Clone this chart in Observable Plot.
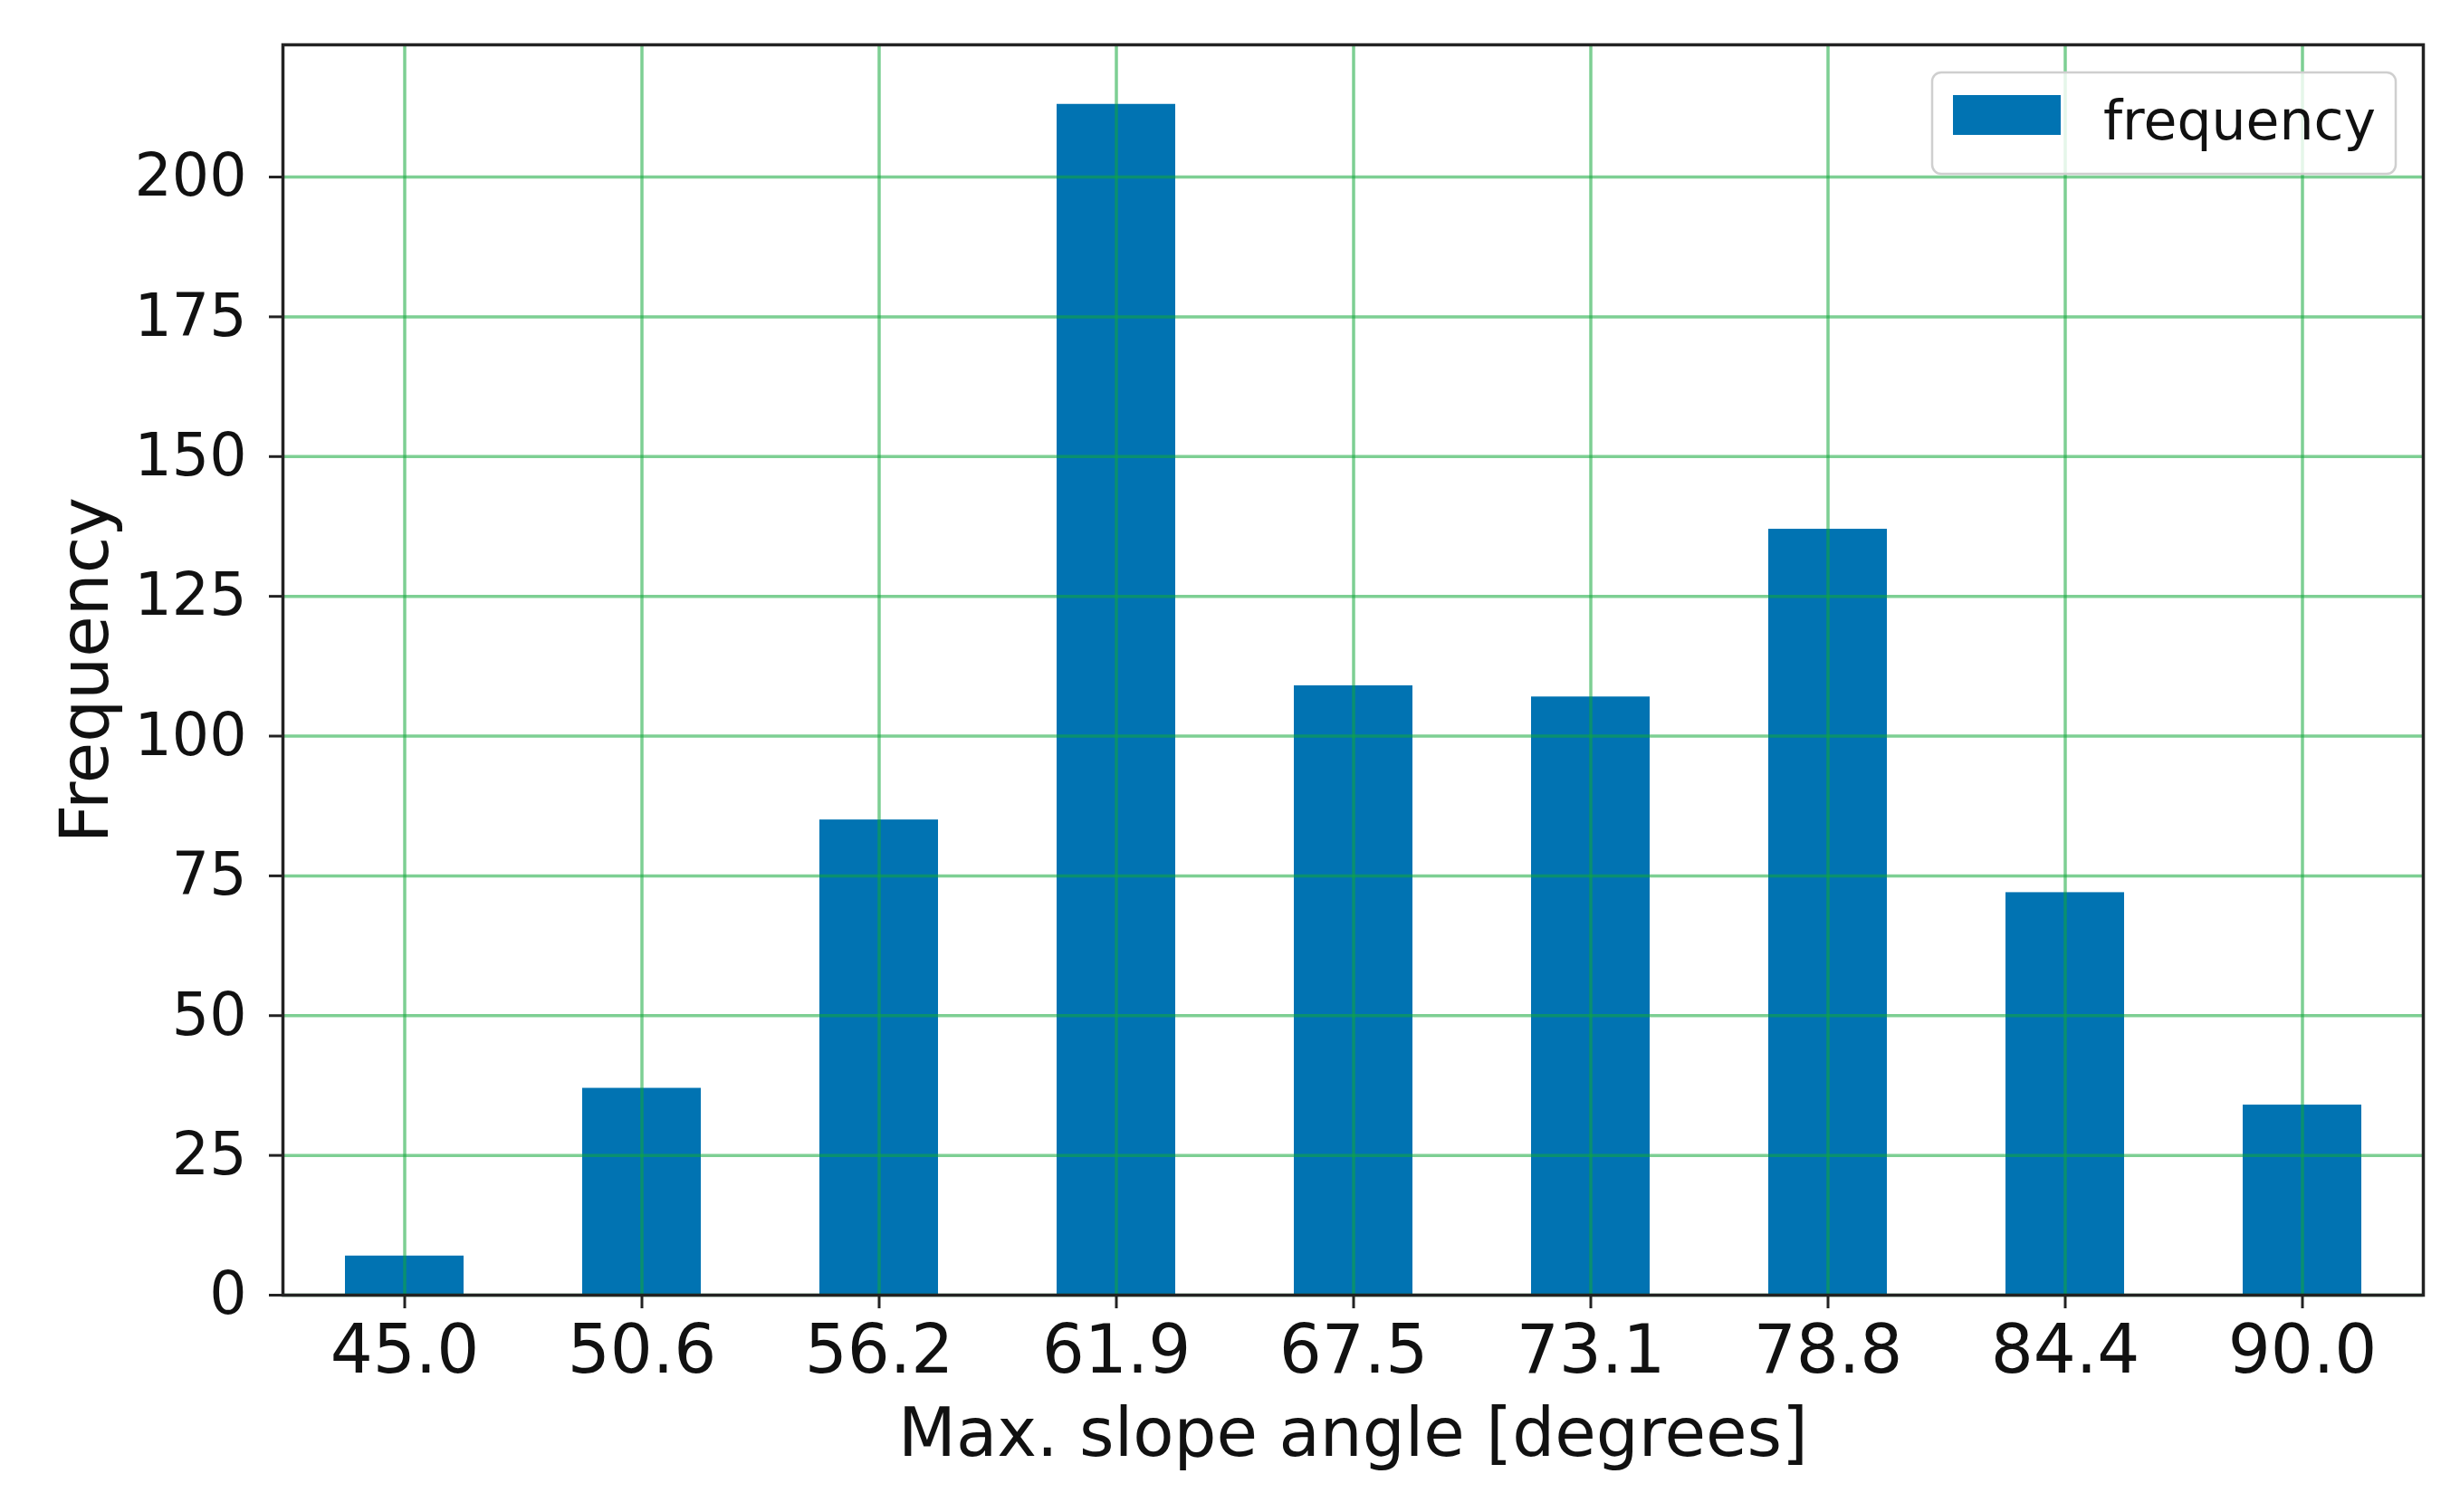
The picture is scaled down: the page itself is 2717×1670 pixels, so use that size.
<!DOCTYPE html>
<html><head><meta charset="utf-8">
<script src="https://cdn.jsdelivr.net/npm/d3@7"></script>
<script src="https://cdn.jsdelivr.net/npm/@observablehq/plot@0.6"></script>
<style>html,body{margin:0;padding:0;background:#fff}</style>
</head><body><div id="chart"></div>
<script>
const categories = ["45.0","50.6","56.2","61.9","67.5","73.1","78.8","84.4","90.0"];
const frequency = [7, 37, 85, 213, 109, 107, 137, 72, 34];
const yTicks = [0, 25, 50, 75, 100, 125, 150, 175, 200];
const seriesName = "frequency";
const xLabel = "Max. slope angle [degrees]";
const yLabel = "Frequency";

const data = categories.map((c, i) => ({angle: c, frequency: frequency[i]}));

const barColor = "#0173b2";
const gridColor = "#13a83a";

const legendMark = (index, scales, values, dims) => {
  const g = d3.create("svg:g");
  const right = dims.width - dims.marginRight;
  const top = dims.marginTop;
  const bw = 512, bh = 112;
  const bx = right - 30 - bw, by = top + 31;
  g.append("rect").attr("x", bx).attr("y", by).attr("width", bw).attr("height", bh)
    .attr("rx", 10).attr("fill", "white").attr("fill-opacity", 0.8)
    .attr("stroke", "#cfcfcf").attr("stroke-width", 2.5);
  g.append("rect").attr("x", bx + 23).attr("y", by + 25).attr("width", 119).attr("height", 44)
    .attr("fill", barColor);
  g.append("text").attr("x", bx + 189).attr("y", by + 74).attr("font-size", 60)
    .attr("text-anchor", "start").attr("fill", "#111").text(seriesName);
  return g.node();
};

const chart = Plot.plot({
  width: 2717,
  height: 1670,
  marginLeft: 312,
  marginRight: 41,
  marginTop: 49,
  marginBottom: 240,
  style: {fontFamily: "DejaVu Sans", background: "white", color: "#111"},
  x: {domain: categories, paddingInner: 0.5, paddingOuter: 0.25, align: 0.5},
  y: {domain: [0, 223.65]},
  marks: [
    Plot.barY(data, {x: "angle", y: "frequency", fill: barColor}),
    Plot.gridY(yTicks, {stroke: gridColor, strokeOpacity: 0.55, strokeWidth: 3.5}),
    Plot.gridX(categories, {stroke: gridColor, strokeOpacity: 0.55, strokeWidth: 3.5}),
    Plot.axisY(yTicks, {tickSize: 15, tickPadding: 25, fontSize: 65, label: null, stroke: "#222", strokeWidth: 3}),
    Plot.axisX(categories, {tickSize: 15, tickPadding: 18, fontSize: 74, label: null, stroke: "#222", strokeWidth: 3}),
    Plot.frame({stroke: "#222", strokeWidth: 3.5}),
    Plot.text([xLabel], {frameAnchor: "bottom", lineAnchor: "middle", textAnchor: "middle", dy: 154, fontSize: 74, text: d => d, fill: "#111"}),
    Plot.text([yLabel], {frameAnchor: "left", lineAnchor: "middle", textAnchor: "middle", dx: -217, rotate: -90, fontSize: 74, text: d => d, fill: "#111"}),
    legendMark
  ]
});
document.getElementById("chart").appendChild(chart);
</script>
</body></html>
